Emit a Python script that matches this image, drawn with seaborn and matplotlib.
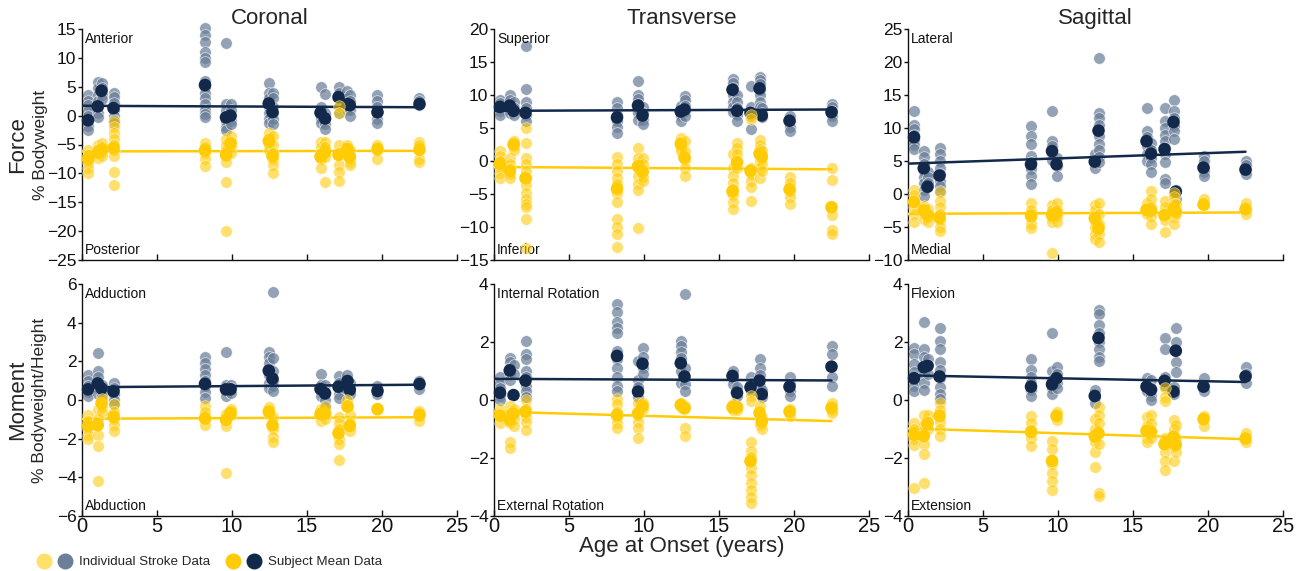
import numpy as np
import pandas as pd
import matplotlib
matplotlib.use("Agg")
import matplotlib.pyplot as plt
from matplotlib.lines import Line2D
from matplotlib.legend_handler import HandlerTuple
import seaborn as sns

sns.set_style("ticks")
plt.rcParams['font.family'] = ['Liberation Sans', 'DejaVu Sans']

# ---------------- data ----------------
ages = [0.4, 1.05, 1.3, 2.1, 8.2, 9.6, 9.9, 12.45, 12.7, 15.9, 16.2, 17.1, 17.7, 17.85, 19.7, 22.5]

# Coronal force (% bodyweight): anterior (+) / posterior (-)
cor_f_pos_ind = [
    [3.5, 2.6, 1.8, 0.8, 0.0, -1.0, -1.8, -2.5],
    [5.8, 4.8, 3.5, 2.5, 1.5, 0.5, -0.3],
    [5.6, 4.8, 3.5, 2.8],
    [4.0, 3.2, 2.2, 1.0, 0.0, -0.8, -1.2],
    [15.2, 14.0, 12.7, 11.0, 10.0, 9.2, 6.0, 5.0, 4.0, 3.0, 2.0, 1.0, 0.2, -0.3],
    [12.5, 2.0, 1.0, 0.0, -1.0, -2.0, -2.5],
    [2.0, 1.0, 0.0, -1.0, -1.5],
    [5.7, 4.0, 3.0, 1.5, 0.5, -0.5, -1.2],
    [4.0, 3.0, 1.5, 0.5, -0.5, -1.5],
    [5.0, 1.5, 0.5, -0.5, -1.2],
    [3.7, 0.5, -0.5, -1.5, -2.3],
    [5.0, 4.0, 3.0, 1.5, 0.5],
    [4.2, 3.0, 2.0, 1.0],
    [3.5, 2.5, 1.0, 0.0],
    [3.6, 2.5, 1.5, 0.5, -0.5, -1.3],
    [3.1, 2.5, 1.9],
]
cor_f_pos_mean = [-0.8, 1.6, 4.3, 1.3, 5.3, -0.3, 0.0, 2.1, 0.6, 0.5, -0.5, 3.2, 2.0, 1.8, 0.6, 2.0]
cor_f_neg_ind = [
    [-6.0, -6.8, -7.5, -8.2, -9.0, -10.0],
    [-5.0, -5.8, -6.5, -7.3],
    [-4.8, -5.5, -6.3, -7.0],
    [-1.0, -2.0, -3.0, -4.0, -5.0, -6.0, -7.0, -9.8, -12.0],
    [-4.7, -5.5, -6.5, -7.5, -8.7],
    [-4.0, -5.0, -6.0, -7.0, -8.0, -11.5, -20.0],
    [-3.5, -4.5, -5.5, -6.5],
    [-3.0, -3.8, -5.0, -6.0],
    [-3.5, -5.0, -6.5, -7.5, -8.5, -10.0],
    [-4.5, -5.5, -6.5, -7.5, -9.0],
    [-4.5, -5.5, -6.5, -7.2, -11.5],
    [1.7, 0.5, -5.0, -6.5, -8.5, -9.8, -11.3],
    [-5.0, -5.8, -6.5],
    [-6.0, -7.0, -8.0, -8.6],
    [-5.0, -6.0, -7.5],
    [-4.5, -5.0, -7.5, -8.1],
]
cor_f_neg_mean = [-7.5, -6.4, -5.9, -5.6, -6.0, -6.8, -4.8, -4.4, -7.0, -7.1, -6.3, -6.8, -5.8, -7.2, -5.8, -5.9]
cor_f_trend_pos = [1.7, -0.011]   # intercept, slope
cor_f_trend_neg = [-6.2, 0.0045]

# Transverse force: superior (+) / inferior (-)
tra_f_pos_ind = [
    [9.3, 8.8, 8.2, 7.6, 7.0],
    [10.0, 9.3, 8.5, 7.8, 7.2],
    [9.0, 8.0, 7.0],
    [17.4, 10.9, 8.9, 8.0, 7.0, 6.0],
    [9.0, 8.0, 7.0, 6.0, 5.2, 4.3],
    [12.1, 10.0, 9.4, 8.7, 8.0, 7.2, 6.2],
    [8.2, 7.2, 6.2, 5.6],
    [8.3, 7.5, 6.8, 6.0],
    [9.9, 9.2, 8.4, 7.6, 6.8],
    [12.5, 11.8, 11.0, 10.0, 9.0, 8.2, 7.5],
    [10.0, 9.0, 8.0, 7.0, 6.0],
    [11.4, 8.2, 7.5, 6.8, 4.8],
    [12.8, 12.2, 11.6, 10.8, 10.0, 9.0, 8.2],
    [8.0, 7.2, 6.6],
    [6.8, 6.0, 5.2, 4.6],
    [8.7, 8.2, 7.6, 6.8, 6.0],
]
tra_f_pos_mean = [8.2, 8.4, 7.6, 7.3, 6.6, 8.4, 6.9, 7.5, 7.8, 10.8, 7.6, 7.3, 11.0, 6.9, 6.1, 7.4]
tra_f_neg_ind = [
    [1.5, 0.8, 0.0, -1.0, -1.8, -2.5],
    [0.5, -0.5, -1.2, -2.0, -2.6],
    [3.0, 2.3, 1.6],
    [5.0, 2.7, 0.5, -0.5, -1.5, -2.5, -3.7, -4.8, -5.8, -6.5, -7.0, -8.8, -13.2],
    [0.6, -0.5, -1.5, -2.5, -3.5, -4.8, -6.2, -8.8, -10.0, -11.0, -13.0],
    [1.9, 0.5, -1.0, -2.2, -3.5, -4.4, -10.2],
    [0.5, -0.5, -1.5, -2.4, -3.0],
    [3.5, 2.8, 2.0, 1.5],
    [3.0, 1.5, 0.2, -1.0, -2.2],
    [1.0, -1.0, -2.2, -3.3, -4.2, -5.2, -6.2, -7.2],
    [2.8, 2.0, 1.0, 0.0, -1.0],
    [7.0, 6.3, -1.0, -2.0, -3.0, -4.0, -6.0],
    [3.2, 2.5, 1.8, 1.0, 0.0, -1.0, -2.5],
    [1.5, 0.5, -0.5, -1.5],
    [-2.4, -3.4, -4.5, -5.5, -6.5],
    [-1.1, -2.9, -8.2, -10.4, -11.0],
]
tra_f_neg_mean = [-0.4, -1.5, 2.5, -2.6, -4.2, -0.8, -1.6, 2.6, 0.5, -4.6, -0.2, -1.5, 1.1, 0.7, -4.3, -7.0]
tra_f_trend_pos = [7.6, 0.009]
tra_f_trend_neg = [-0.9, -0.016]

# Sagittal force: lateral (+) / medial (-)
sag_f_pos_ind = [
    [12.6, 10.4, 9.8, 9.0, 8.0, 7.4, 6.8],
    [6.5, 5.6, 4.6, 3.5, 2.6, 1.6, 0.6, -0.3],
    [3.4, 2.6, 1.7],
    [7.0, 6.0, 5.0, 4.0, 3.0, 2.0, 1.2, 0.5],
    [10.3, 8.8, 7.6, 5.8, 4.8, 3.8, 2.8, 1.5],
    [12.6, 8.0, 7.2, 6.2, 5.2],
    [5.5, 4.2, 2.7],
    [6.0, 5.0, 4.0],
    [20.6, 12.3, 11.5, 10.4, 8.8, 7.6, 6.6, 5.6, 4.8],
    [13.0, 9.6, 8.6, 7.2, 6.0, 5.0],
    [7.8, 6.6, 5.5, 4.5, 3.3],
    [13.0, 11.0, 10.0, 9.0, 8.0, 7.0, 6.0, 4.8, 2.2, 1.6],
    [14.2, 12.5, 11.5, 10.3, 9.5, 8.4],
    [0.6, -0.8],
    [5.8, 5.0, 4.0, 3.3, 2.8],
    [5.0, 4.4, 3.6, 3.0],
]
sag_f_pos_mean = [8.6, 3.9, 1.1, 2.8, 4.5, 6.5, 4.5, 4.9, 9.6, 8.0, 6.1, 6.8, 10.9, 0.35, 4.0, 3.7]
sag_f_neg_ind = [
    [0.6, -0.2, -1.0, -2.0, -3.0, -4.3],
    [-1.8, -2.8, -3.8],
    [-2.3, -3.5, -4.2],
    [0.3, -1.0, -2.0, -3.0, -4.0, -5.0, -5.6],
    [-1.4, -2.4, -3.5, -4.5, -5.2],
    [-1.6, -2.5, -3.5, -4.2, -8.9],
    [-1.4, -2.4, -3.4, -4.2],
    [-1.6, -2.5, -4.0, -5.0, -6.0, -6.8],
    [-1.4, -3.0, -4.5, -6.0, -7.2],
    [-1.4, -2.2, -3.0],
    [0.4, -0.8, -2.0, -3.4, -4.5],
    [-1.0, -2.0, -3.0, -4.0, -5.8],
    [0.2, -0.5, -1.5, -2.5, -3.5, -4.5],
    [-1.5, -3.0],
    [-0.8, -1.6],
    [-1.4, -2.2, -3.0],
]
sag_f_neg_mean = [-1.2, -2.5, -3.2, -3.6, -3.3, -3.2, -2.9, -3.7, -5.2, -2.4, -2.5, -3.2, -2.2, -2.6, -1.6, -2.3]
sag_f_trend_pos = [4.6, 0.08]
sag_f_trend_neg = [-3.0, 0.009]

# Coronal moment (% BW*height): adduction (+) / abduction (-)
cor_m_pos_ind = [
    [1.3, 1.0, 0.7, 0.4, 0.2],
    [2.45, 1.5, 1.2, 0.9, 0.6, 0.3],
    [0.8, 0.5, 0.2],
    [0.9, 0.6, 0.3, 0.0, -0.2],
    [2.2, 1.9, 1.6, 1.3, 1.0, 0.7, 0.4, 0.1],
    [2.5, 0.8, 0.5, 0.2],
    [0.8, 0.6, 0.35],
    [2.5, 2.2, 1.9, 1.3, 0.9, 0.6],
    [5.6, 2.15, 1.5, 1.0, 0.7, 0.45],
    [1.35, 0.8, 0.5, 0.2],
    [0.8, 0.4, 0.0, -0.3],
    [1.25, 0.9, 0.6, 0.3, 0.1],
    [1.3, 1.0, 0.7],
    [0.9, 0.6, 0.3],
    [0.7, 0.45, 0.3],
    [1.0, 0.8, 0.55],
]
cor_m_pos_mean = [0.55, 0.86, 0.6, 0.45, 0.83, 0.55, 0.55, 1.52, 1.1, 0.57, 0.34, 0.69, 0.98, 0.52, 0.47, 0.83]
cor_m_neg_ind = [
    [-0.8, -1.1, -1.5, -1.8, -2.0],
    [-0.5, -1.0, -1.8, -2.4, -4.2],
    [0.05, -0.35, -0.6],
    [-0.2, -0.6, -1.0, -1.3, -1.6],
    [-0.3, -0.6, -1.0, -1.3],
    [-0.7, -1.35, -3.75],
    [-0.45, -0.8],
    [-0.35, -0.7],
    [-0.9, -1.5, -1.9, -2.15],
    [-0.45, -0.8, -1.1],
    [-0.35, -0.7, -1.0],
    [-0.9, -1.2, -1.5, -2.0, -2.3, -3.1],
    [0.0, -0.25],
    [-0.8, -1.2, -1.6],
    [-0.4],
    [-0.55, -0.85, -1.1],
]
cor_m_neg_mean = [-1.34, -1.3, -0.17, -0.86, -0.95, -1.03, -0.66, -0.6, -1.31, -0.72, -0.69, -1.72, -0.34, -1.34, -0.48, -0.76]
cor_m_trend_pos = [0.66, 0.0058]
cor_m_trend_neg = [-0.97, 0.0035]

# Transverse moment: internal (+) / external rotation (-)
tra_m_pos_ind = [
    [0.8, 0.6, 0.4, 0.15, 0.0],
    [1.45, 1.3, 1.1, 0.9, 0.7],
    [1.2, 0.9],
    [2.05, 1.6, 1.4, 1.0, 0.8, 0.5, 0.3, 0.1],
    [3.3, 3.05, 2.7, 2.5, 2.3, 1.7, 1.4, 1.1, 0.8, 0.5, 0.3],
    [1.35, 0.7, 0.45, 0.1],
    [1.8, 1.5, 1.1, 0.9],
    [2.05, 1.85, 1.65, 1.45, 1.0, 0.6],
    [3.65, 1.1, 0.55, 0.3],
    [1.0, 0.75, 0.55],
    [0.45, 0.15],
    [0.8, 0.6, 0.3],
    [1.4, 1.1, 0.85, 0.5, 0.3],
    [0.35, 0.1],
    [0.8, 0.55, 0.3, 0.15],
    [1.85, 1.6, 0.8, 0.5],
]
tra_m_pos_mean = [0.25, 1.02, 0.17, 0.67, 1.52, 0.29, 1.25, 1.27, 0.81, 0.83, 0.25, 0.44, 0.67, 0.2, 0.46, 1.15]
tra_m_neg_ind = [
    [-0.3, -0.5, -0.8],
    [-0.2, -0.45, -0.8, -1.45, -1.65],
    [-0.3, -0.65, -0.9],
    [0.0, -0.3, -0.6, -0.75, -1.05],
    [0.05, -0.15, -0.4, -0.6, -0.8, -0.95],
    [-0.1, -0.5, -0.75, -0.95, -1.3],
    [-0.1, -0.3],
    [-0.1, -0.25],
    [-0.2, -0.95, -1.25],
    [-0.15, -0.35],
    [-0.2, -0.35],
    [0.15, -0.05, -1.45, -1.75, -1.95, -2.35, -2.6, -2.85, -3.1, -3.35, -3.55],
    [-0.2, -0.55, -0.85],
    [-0.6, -1.0],
    [-0.3, -0.55],
    [-0.1, -0.35, -0.45],
]
tra_m_neg_mean = [-0.54, -0.69, -0.48, -0.4, -0.52, -0.46, -0.21, -0.17, -0.29, -0.25, -0.25, -2.11, -0.44, -0.75, -0.4, -0.27]
tra_m_trend_pos = [0.73, -0.0025]
tra_m_trend_neg = [-0.4, -0.0145]

# Sagittal moment: flexion (+) / extension (-)
sag_m_pos_ind = [
    [1.8, 1.6, 1.25, 0.95, 0.7, 0.5, 0.3],
    [2.7, 1.75, 1.5, 0.9, 0.6, 0.35],
    [1.4, 1.2, 0.9],
    [2.5, 2.05, 1.75, 1.3, 1.05, 0.75, 0.45, 0.2, 0.05],
    [1.4, 1.05, 0.8, 0.6, 0.35, 0.15],
    [2.3, 1.0, 0.7, 0.4, 0.2],
    [1.15, 0.9, 0.6, 0.4],
    [0.35, 0.1, -0.1],
    [3.1, 2.95, 2.6, 2.3, 2.0, 1.75, 1.5, 1.35],
    [0.75, 0.5, 0.3],
    [0.7, 0.4, 0.15, 0.0],
    [2.15, 1.75, 0.8, 0.5],
    [0.45, 0.2],
    [2.5, 2.0, 1.7, 1.3, 0.95],
    [0.75, 0.5, 0.3],
    [1.15, 0.9, 0.6],
]
sag_m_pos_mean = [0.75, 1.13, 1.18, 0.81, 0.46, 0.54, 0.75, 0.14, 2.14, 0.46, 0.35, 0.66, 0.29, 1.7, 0.46, 0.81]
sag_m_neg_ind = [
    [-0.8, -1.0, -1.35, -1.55, -3.05],
    [-0.5, -0.85, -1.5, -1.85, -2.85],
    [-0.5, -0.75, -1.0],
    [-0.1, -0.35, -0.75, -1.0, -1.25],
    [-0.55, -0.8, -1.05, -1.3, -1.6],
    [-1.4, -1.7, -2.2, -2.5, -2.8, -3.1],
    [-0.4, -0.7],
    [-0.65, -1.0, -1.45, -1.8, -2.3],
    [-0.25, -0.5, -0.8, -1.5, -3.2, -3.3],
    [-0.6, -0.9, -1.3, -1.45],
    [-0.5, -0.8, -1.3],
    [0.4, 0.1, -0.05, -1.3, -1.8, -2.1, -2.4],
    [-0.7, -1.0, -1.6, -2.1],
    [-0.85, -1.3, -1.8],
    [-0.55, -0.9],
    [-1.15, -1.45],
]
sag_m_neg_mean = [-1.2, -1.24, -0.81, -0.55, -1.1, -2.1, -0.55, -1.25, -1.15, -1.07, -1.1, -1.52, -1.27, -1.54, -0.66, -1.33]
sag_m_trend_pos = [0.85, -0.0102]
sag_m_trend_neg = [-0.98, -0.0165]

col_titles = ["Coronal", "Transverse", "Sagittal"]
row_labels = [("Force", "% Bodyweight"), ("Moment", "% Bodyweight/Height")]
dir_labels = [
    [("Anterior", "Posterior"), ("Superior", "Inferior"), ("Lateral", "Medial")],
    [("Adduction", "Abduction"), ("Internal Rotation", "External Rotation"), ("Flexion", "Extension")],
]
ylims = [[(-25, 15), (-15, 20), (-10, 25)], [(-6, 6), (-4, 4), (-4, 4)]]
yticks = [[np.arange(-25, 16, 5), np.arange(-15, 21, 5), np.arange(-10, 26, 5)],
          [np.arange(-6, 7, 2), np.arange(-4, 5, 2), np.arange(-4, 5, 2)]]
legend_labels = ["Individual Stroke Data", "Subject Mean Data"]

panels = [
    [(cor_f_pos_ind, cor_f_pos_mean, cor_f_neg_ind, cor_f_neg_mean, cor_f_trend_pos, cor_f_trend_neg),
     (tra_f_pos_ind, tra_f_pos_mean, tra_f_neg_ind, tra_f_neg_mean, tra_f_trend_pos, tra_f_trend_neg),
     (sag_f_pos_ind, sag_f_pos_mean, sag_f_neg_ind, sag_f_neg_mean, sag_f_trend_pos, sag_f_trend_neg)],
    [(cor_m_pos_ind, cor_m_pos_mean, cor_m_neg_ind, cor_m_neg_mean, cor_m_trend_pos, cor_m_trend_neg),
     (tra_m_pos_ind, tra_m_pos_mean, tra_m_neg_ind, tra_m_neg_mean, tra_m_trend_pos, tra_m_trend_neg),
     (sag_m_pos_ind, sag_m_pos_mean, sag_m_neg_ind, sag_m_neg_mean, sag_m_trend_pos, sag_m_trend_neg)],
]

# ---------------- style ----------------
NAVY = "#13294B"
MAIZE = "#FFCB05"
GRAY = "#6B7F99"
LIGHT_Y = "#FFE069"

W, H = 1302, 571
fig = plt.figure(figsize=(W / 100, H / 100), dpi=100)

col_x = [82, 494, 908]
col_w = 375
row_top = [29, 284]
row_h = [231, 232]


def long_df(ind_lists):
    xs, ys = [], []
    for a, vals in zip(ages, ind_lists):
        xs += [a] * len(vals)
        ys += list(vals)
    return pd.DataFrame({"age": xs, "value": ys})


for r in range(2):
    for c in range(3):
        left = col_x[c] / W
        bottom = 1 - (row_top[r] + row_h[r]) / H
        ax = fig.add_axes([left, bottom, col_w / W, row_h[r] / H])
        pos_ind, pos_mean, neg_ind, neg_mean, tr_pos, tr_neg = panels[r][c]

        dpi_ = long_df(pos_ind)
        dni = long_df(neg_ind)
        dpm = pd.DataFrame({"age": ages, "value": pos_mean})
        dnm = pd.DataFrame({"age": ages, "value": neg_mean})

        sns.scatterplot(data=dpi_, x="age", y="value", color=GRAY, alpha=0.72, s=70,
                        edgecolor="white", linewidth=0.5, ax=ax, zorder=2, clip_on=False)
        sns.scatterplot(data=dpm, x="age", y="value", color=NAVY, s=82,
                        edgecolor="none", ax=ax, zorder=3, clip_on=False)
        sns.scatterplot(data=dni, x="age", y="value", color=MAIZE, alpha=0.58, s=70,
                        edgecolor="white", linewidth=0.5, ax=ax, zorder=4, clip_on=False)
        sns.scatterplot(data=dnm, x="age", y="value", color=MAIZE, s=82,
                        edgecolor="none", ax=ax, zorder=5, clip_on=False)

        xl = np.array([0.0, max(ages)])
        for (b0, b1), colr in ((tr_pos, NAVY), (tr_neg, MAIZE)):
            dl = pd.DataFrame({"age": xl, "value": b0 + b1 * xl})
            sns.lineplot(data=dl, x="age", y="value", color=colr, lw=1.8, ax=ax, zorder=3.5)

        ax.set_xlim(0, 25)
        ax.set_ylim(*ylims[r][c])
        ax.set_xticks(np.arange(0, 26, 5))
        ax.set_yticks(yticks[r][c])
        ax.set_xlabel("")
        ax.set_ylabel("")
        sns.despine(ax=ax)
        for sp in ("left", "bottom"):
            ax.spines[sp].set_linewidth(1.0)
            ax.spines[sp].set_color("#111111")
        ax.tick_params(axis="x", direction="in", length=4, width=1.0, labelsize=14.5, pad=1,
                       colors="#111111")
        ax.tick_params(axis="y", direction="out", length=3, width=1.0, labelsize=12.5, pad=1,
                       colors="#111111")
        if r == 0:
            ax.tick_params(axis="x", labelbottom=False)
            ax.set_title(col_titles[c], fontsize=16, pad=3)
        if r == 1 and c == 1:
            ax.set_xlabel("Age at Onset (years)", fontsize=16, labelpad=0)
        top_txt, bot_txt = dir_labels[r][c]
        ax.text(0.008, 0.985, top_txt, transform=ax.transAxes, ha="left", va="top", fontsize=10,
                color="#111111")
        ax.text(0.008, 0.015, bot_txt, transform=ax.transAxes, ha="left", va="bottom", fontsize=10,
                color="#111111")

# row labels
for r in range(2):
    yc = 1 - (row_top[r] + row_h[r] / 2) / H
    big, small = row_labels[r]
    fig.text(18 / W, yc, big, rotation=90, ha="center", va="center", fontsize=16)
    fig.text(40 / W, yc, small, rotation=90, ha="center", va="center", fontsize=12.5)

# legend
def mk(col):
    return Line2D([], [], marker="o", linestyle="", markersize=11.5, markerfacecolor=col,
                  markeredgecolor="none")

handles = [(mk(LIGHT_Y), mk(GRAY)), (mk(MAIZE), mk(NAVY))]
fig.legend(handles, legend_labels, handler_map={tuple: HandlerTuple(ndivide=None, pad=0.45)},
           loc="center left", bbox_to_anchor=(36 / W, 1 - 562 / H), ncol=2, frameon=False,
           fontsize=9.6, handlelength=2.7, handletextpad=0.5, columnspacing=1.2,
           borderaxespad=0, borderpad=0)

fig.savefig("out.png", dpi=100)
